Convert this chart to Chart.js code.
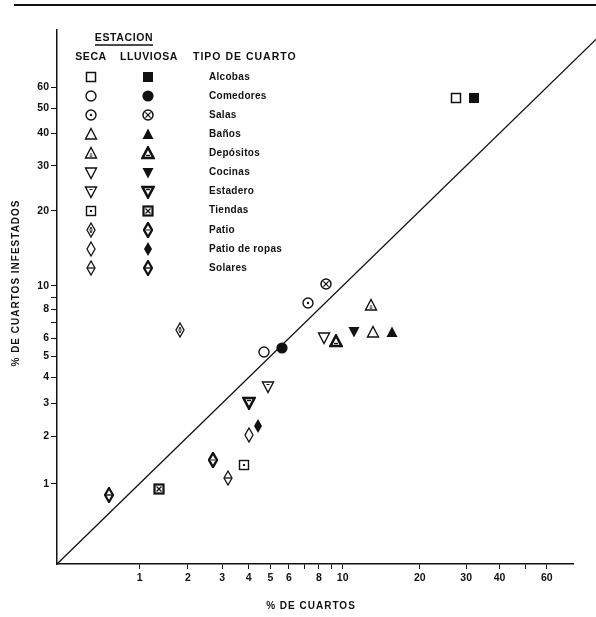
<!DOCTYPE html>
<html>
<head>
<meta charset="utf-8">
<script src="https://cdn.jsdelivr.net/npm/chart.js@4.4.0/dist/chart.umd.min.js"></script>
<style>
  html, body { margin: 0; padding: 0; background: #fff; }
  #c { display: block; }
</style>
</head>
<body>
<canvas id="c" width="596" height="617"></canvas>
<script>
(function () {
    'use strict';

    /* --- Data (% values) --- */
    var tipos  = ['Alcobas', 'Comedores', 'Salas', 'Baños', 'Depósitos', 'Cocinas',
                  'Estadero', 'Tiendas', 'Patio', 'Patio de ropas', 'Solares'];
    var secaX  = [27.4, 4.7, 7.2, 13.2, 13.0, 8.4, 4.9, 3.8, 1.8, 4.0, 3.2];
    var secaY  = [54.5, 5.2, 8.5, 6.4, 8.3, 6.0, 3.6, 1.35, 6.5, 2.05, 1.1];
    var lluvX  = [32.0, 5.6, 8.6, 15.6, 9.4, 11.1, 4.0, 1.35, 2.7, 4.4, 0.55];
    var lluvY  = [54.5, 5.45, 10.2, 6.4, 5.85, 6.4, 3.0, 0.91, 1.45, 2.3, 0.81];
    var refLine = [0, 100];            // y = x reference line

    var xTicks  = [1, 2, 3, 4, 5, 6, 7, 8, 9, 10, 20, 30, 40, 50, 60];
    var xLabels = [1, 2, 3, 4, 5, 6, 8, 10, 20, 30, 40, 60];
    var yTicks  = [1, 2, 3, 4, 5, 6, 7, 8, 9, 10, 20, 30, 40, 50, 60];
    var yLabels = [1, 2, 3, 4, 5, 6, 8, 10, 20, 30, 40, 50, 60];
    var xMax = 75, yMax = 99;

    // axes are log(v + 1)
    function lg(v) { return Math.log10(v + 1); }

    var FONT = '"Liberation Sans", Arial, sans-serif';
    var INK = '#111';

    /* --- Marker glyphs --- */
    function mk(w, h, draw) {
        var c = document.createElement('canvas');
        c.width = w; c.height = h;
        var g = c.getContext('2d');
        g.strokeStyle = INK; g.fillStyle = INK; g.lineJoin = 'miter';
        draw(g);
        return c;
    }
    function triUp(g) { g.beginPath(); g.moveTo(7, 1.5); g.lineTo(12.5, 12); g.lineTo(1.5, 12); g.closePath(); }
    function triDn(g) { g.beginPath(); g.moveTo(1.5, 2); g.lineTo(12.5, 2); g.lineTo(7, 12.5); g.closePath(); }
    function dia(g) { g.beginPath(); g.moveTo(5, 1); g.lineTo(9, 8); g.lineTo(5, 15); g.lineTo(1, 8); g.closePath(); }
    function circ(g, r) { g.beginPath(); g.arc(7, 7, r, 0, Math.PI * 2); }
    function line(g, a, b, c, d) { g.beginPath(); g.moveTo(a, b); g.lineTo(c, d); g.stroke(); }

    var M = {
        sqOpen:  mk(14, 14, function (g) { g.lineWidth = 1.5; g.strokeRect(2.5, 2.5, 9, 9); }),
        sqFill:  mk(14, 14, function (g) { g.fillRect(2, 2, 10, 10); }),
        cOpen:   mk(14, 14, function (g) { g.lineWidth = 1.4; circ(g, 5); g.stroke(); }),
        cFill:   mk(14, 14, function (g) { circ(g, 5.6); g.fill(); }),
        cDot:    mk(14, 14, function (g) { g.lineWidth = 1.4; circ(g, 5); g.stroke(); circ(g, 1.2); g.fill(); }),
        cX:      mk(14, 14, function (g) { g.lineWidth = 1.5; circ(g, 5); g.stroke(); g.lineWidth = 1.2;
                     line(g, 4.4, 4.4, 9.6, 9.6); line(g, 9.6, 4.4, 4.4, 9.6); }),
        tOpen:   mk(14, 14, function (g) { g.lineWidth = 1.4; triUp(g); g.stroke(); }),
        tFill:   mk(14, 14, function (g) { triUp(g); g.fill(); }),
        tIn:     mk(14, 14, function (g) { g.lineWidth = 1.4; triUp(g); g.stroke(); g.lineWidth = 1;
                     line(g, 5.5, 10, 8.5, 10); line(g, 7, 7, 7, 9); }),
        tBold:   mk(14, 14, function (g) { g.lineWidth = 2.6; triUp(g); g.stroke(); g.lineWidth = 1.4; line(g, 5, 9.5, 9, 9.5); }),
        dOpen:   mk(14, 14, function (g) { g.lineWidth = 1.4; triDn(g); g.stroke(); }),
        dFill:   mk(14, 14, function (g) { triDn(g); g.fill(); }),
        dIn:     mk(14, 14, function (g) { g.lineWidth = 1.4; triDn(g); g.stroke(); g.lineWidth = 1; line(g, 5.5, 4.5, 8.5, 4.5); }),
        dBold:   mk(14, 14, function (g) { g.lineWidth = 2.6; triDn(g); g.stroke(); g.lineWidth = 1.4; line(g, 5, 4.5, 9, 4.5); }),
        sqDot:   mk(14, 14, function (g) { g.lineWidth = 1.4; g.strokeRect(2.5, 2.5, 9, 9); g.fillRect(6, 6, 2, 2); }),
        sqX:     mk(14, 14, function (g) { g.lineWidth = 2.2; g.strokeRect(2.5, 2.5, 9, 9); g.lineWidth = 1.2;
                     line(g, 4.5, 4.5, 9.5, 9.5); line(g, 9.5, 4.5, 4.5, 9.5); }),
        pIn:     mk(10, 16, function (g) { g.lineWidth = 1.3; dia(g); g.stroke(); g.lineWidth = 0.9;
                     g.beginPath(); g.moveTo(5, 5); g.lineTo(6.2, 8); g.lineTo(5, 11); g.lineTo(3.8, 8); g.closePath(); g.stroke(); }),
        pBold:   mk(10, 16, function (g) { g.lineWidth = 2.4; dia(g); g.stroke(); g.lineWidth = 1; line(g, 3, 8, 7, 8); }),
        pOpen:   mk(10, 16, function (g) { g.lineWidth = 1.3; dia(g); g.stroke(); }),
        pFill:   mk(10, 16, function (g) { dia(g); g.fill(); }),
        pH:      mk(10, 16, function (g) { g.lineWidth = 1.3; dia(g); g.stroke(); line(g, 1.5, 8, 8.5, 8); }),
        pHBold:  mk(10, 16, function (g) { g.lineWidth = 2.2; dia(g); g.stroke(); g.lineWidth = 1.4; line(g, 1, 8, 9, 8); })
    };

    var secaMarks = [M.sqOpen, M.cOpen, M.cDot, M.tOpen, M.tIn, M.dOpen, M.dIn, M.sqDot, M.pIn, M.pOpen, M.pH];
    var lluvMarks = [M.sqFill, M.cFill, M.cX, M.tFill, M.tBold, M.dFill, M.dBold, M.sqX, M.pBold, M.pFill, M.pHBold];

    /* --- Crisp glyphs: no smoothing when the point images are drawn --- */
    var crispPlugin = {
        id: 'crisp',
        beforeDatasetsDraw: function (chart) { chart.ctx.imageSmoothingEnabled = false; },
        afterDatasetsDraw: function (chart) { chart.ctx.imageSmoothingEnabled = true; }
    };

    /* --- Legend table + axis titles --- */
    var tablePlugin = {
        id: 'tabla',
        afterDraw: function (chart) {
            var ctx = chart.ctx;
            ctx.save();
            ctx.fillStyle = INK;
            ctx.strokeStyle = INK;
            ctx.textBaseline = 'middle';

            // scan edge line at the top
            ctx.lineWidth = 2;
            ctx.beginPath(); ctx.moveTo(14, 5); ctx.lineTo(596, 5); ctx.stroke();

            ctx.font = 'bold 10.5px ' + FONT;
            ctx.letterSpacing = '0.6px';
            ctx.textAlign = 'center';
            ctx.fillText('ESTACION', 124, 38);
            ctx.lineWidth = 1.3;
            ctx.beginPath(); ctx.moveTo(95, 45); ctx.lineTo(153, 45); ctx.stroke();
            ctx.fillText('SECA', 91, 57);
            ctx.fillText('LLUVIOSA', 149, 57);
            ctx.textAlign = 'left';
            ctx.letterSpacing = '1px';
            ctx.fillText('TIPO DE CUARTO', 193, 57);

            ctx.font = 'bold 10px ' + FONT;
            ctx.letterSpacing = '0.3px';
            for (var i = 0; i < tipos.length; i++) {
                var y = 77 + i * 19.1;
                var a = secaMarks[i], b = lluvMarks[i];
                ctx.drawImage(a, Math.round(91 - a.width / 2), Math.round(y - a.height / 2));
                ctx.drawImage(b, Math.round(148 - b.width / 2), Math.round(y - b.height / 2));
                ctx.fillText(tipos[i], 209, y);
            }

            // axis titles
            ctx.font = 'bold 10px ' + FONT;
            ctx.letterSpacing = '1px';
            ctx.textAlign = 'center';
            ctx.fillText('% DE CUARTOS', 311, 606);
            ctx.translate(16, 283);
            ctx.rotate(-Math.PI / 2);
            ctx.fillText('% DE CUARTOS INFESTADOS', 0, 0);
            ctx.restore();
        }
    };

    function pts(xs, ys) {
        return xs.map(function (x, i) { return { x: lg(x), y: lg(ys[i]) }; });
    }

    var tickFont = { family: FONT, size: 10.5, weight: 'bold' };

    new Chart(document.getElementById('c'), {
        type: 'scatter',
        data: {
            datasets: [
                {
                    label: 'Seca',
                    data: pts(secaX, secaY),
                    pointStyle: secaMarks,
                    pointRadius: 6,
                    order: 1
                },
                {
                    label: 'Lluviosa',
                    data: pts(lluvX, lluvY),
                    pointStyle: lluvMarks,
                    pointRadius: 6,
                    order: 1
                },
                {
                    label: 'y = x',
                    data: pts(refLine, refLine),
                    showLine: true,
                    borderColor: INK,
                    borderWidth: 1.3,
                    pointRadius: 0,
                    clip: false,
                    order: 2
                }
            ]
        },
        options: {
            responsive: false,
            animation: false,
            events: [],
            layout: { padding: { top: 30, right: 23, left: 0, bottom: 0 } },
            plugins: {
                legend: { display: false },
                tooltip: { enabled: false }
            },
            scales: {
                x: {
                    type: 'linear',
                    min: 0,
                    max: lg(xMax),
                    afterFit: function (s) { s.height = 53; },
                    afterBuildTicks: function (s) {
                        s.ticks = xTicks.map(function (v) { return { value: lg(v) }; });
                    },
                    border: { display: true, color: INK, width: 1.5 },
                    grid: { drawOnChartArea: false, drawTicks: true, tickLength: 5, color: INK, lineWidth: 1 },
                    ticks: {
                        autoSkip: false,
                        maxRotation: 0,
                        padding: 3,
                        color: INK,
                        font: tickFont,
                        callback: function (v, i) {
                            return xLabels.indexOf(xTicks[i]) >= 0 ? String(xTicks[i]) : '';
                        }
                    }
                },
                y: {
                    type: 'linear',
                    min: 0,
                    max: lg(yMax),
                    afterFit: function (s) { s.width = 57; },
                    afterBuildTicks: function (s) {
                        s.ticks = yTicks.map(function (v) { return { value: lg(v) }; });
                    },
                    border: { display: true, color: INK, width: 1.5 },
                    grid: { drawOnChartArea: false, drawTicks: true, tickLength: 6, color: INK, lineWidth: 1 },
                    ticks: {
                        autoSkip: false,
                        padding: 2,
                        color: INK,
                        font: tickFont,
                        callback: function (v, i) {
                            return yLabels.indexOf(yTicks[i]) >= 0 ? String(yTicks[i]) : '';
                        }
                    }
                }
            }
        },
        plugins: [crispPlugin, tablePlugin]
    });
})();
</script>
</body>
</html>
